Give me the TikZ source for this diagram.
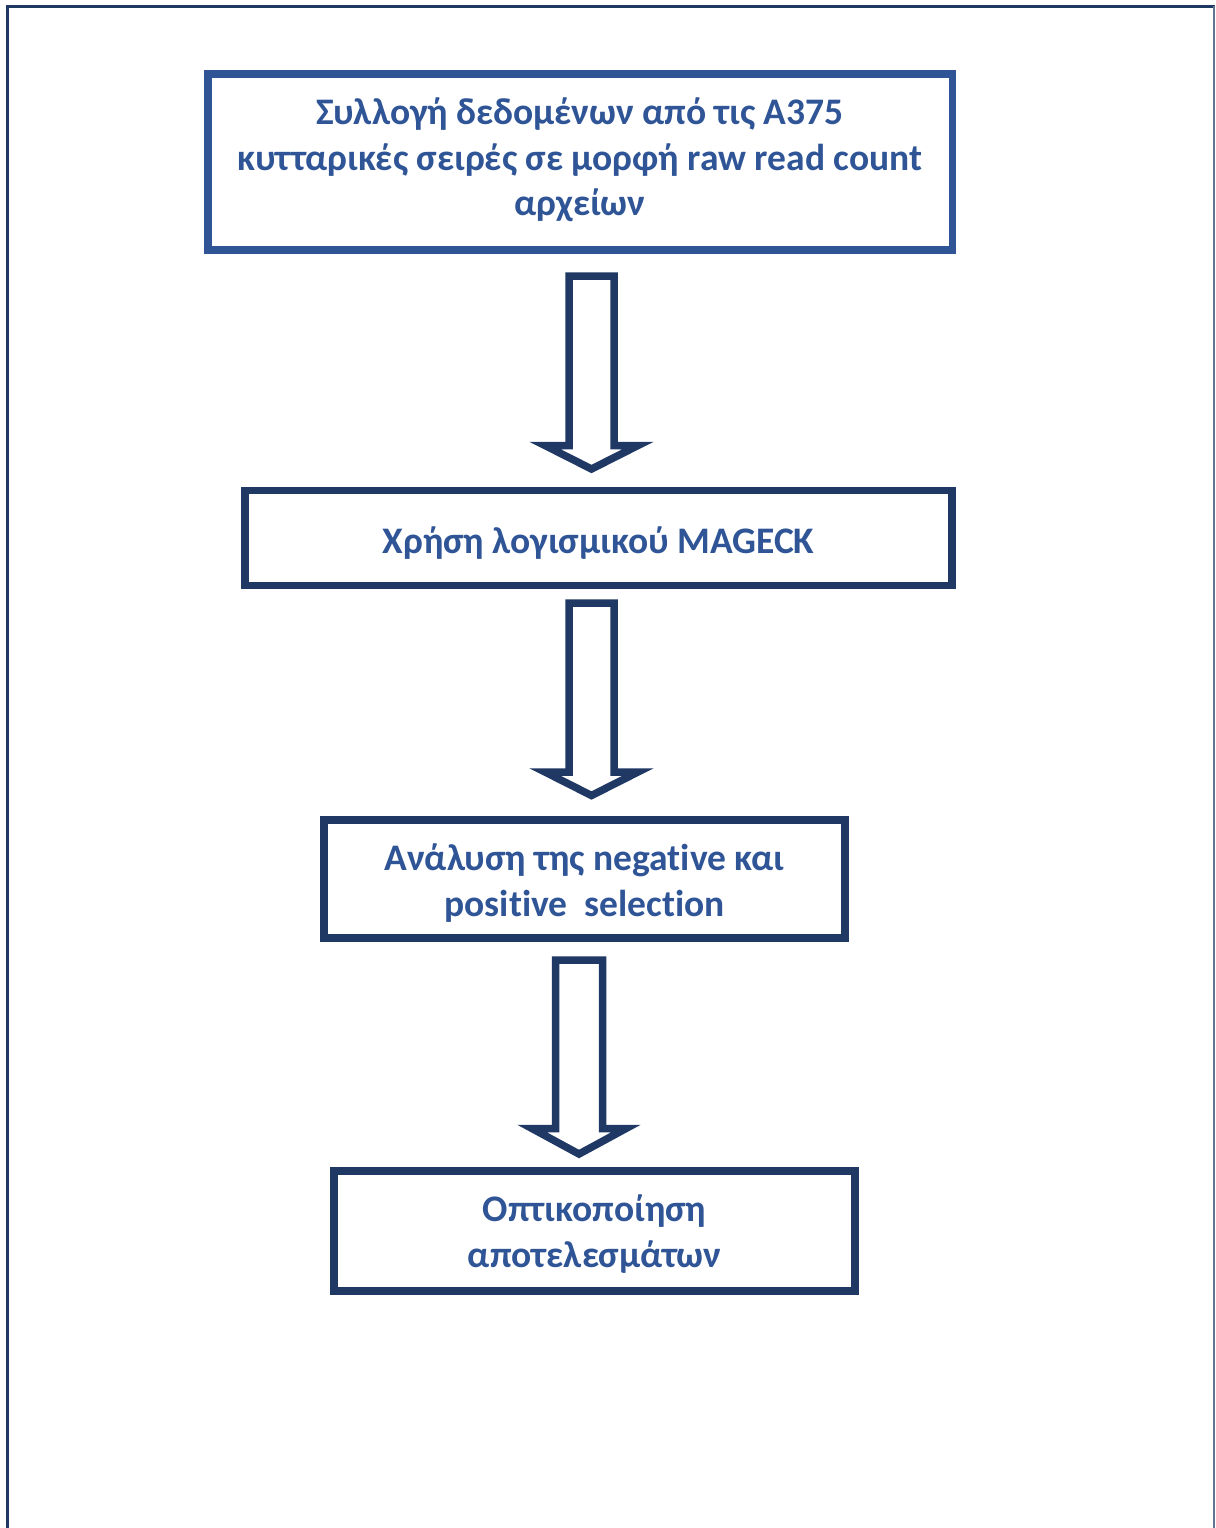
\documentclass[tikz,border=0pt]{standalone}
\usepackage{fontspec}
\setmainfont{Carlito}[Ligatures=NoCommon]
\usetikzlibrary{calc}
\definecolor{boxblue}{HTML}{2F5597}
\definecolor{navy}{HTML}{203864}
\definecolor{txtblue}{HTML}{2F5597}
\newcommand\dnarrow[6]{% cx, top, base, tip, shaft hw, head hw
  \draw[blockarrow] (#1-#5,#2) -- (#1+#5,#2) -- (#1+#5,#3) -- (#1+#6,#3) -- (#1,#4)
    -- (#1-#6,#3) -- (#1-#5,#3) -- cycle;}
\begin{document}
\begin{tikzpicture}[x=1pt,y=-1pt,
  stepbox/.style={draw=navy, line width=7.5pt, fill=white, rectangle, inner sep=0pt},
  steptext/.style={inner sep=0pt, align=center, text=txtblue,
    font=\fontsize{37.5}{45.5}\selectfont\bfseries},
  blockarrow/.style={draw=navy, line width=7.5pt, fill=white, line join=miter},
  frame/.style={draw=navy, line width=3pt}]
\useasboundingbox (0,0) rectangle (1215,1528);
% outer frame (open at bottom)
\draw[frame] (7.5,1528) -- (7.5,6.5) -- (1215,6.5);
\draw[draw=navy!70, line width=1.5pt] (1214,6.5) -- (1214,1528);
% boxes
\node[stepbox, draw=boxblue, minimum width=744.5pt, minimum height=176pt] (b1) at (580,162) {};
\node[stepbox, minimum width=707pt, minimum height=95pt] (b2) at (598.5,538) {};
\node[stepbox, minimum width=521pt, minimum height=118pt] (b3) at (584.5,879) {};
\node[stepbox, minimum width=521pt, minimum height=120pt] (b4) at (594.5,1231) {};
% texts
\node[steptext] (t1) at ($(b1.center)+(0,-2)$)
  {Συλλογή δεδομένων από τις A375\\κυτταρικές σειρές σε μορφή raw read count\\αρχείων};
\node[steptext] (t2) at ($(b2.center)+(0,5)$) {Χρήση λογισμικού MAGECK};
\node[steptext] (t3) at ($(b3.center)+(0,4)$) {Ανάλυση της negative και\\positive\ \ selection};
\node[steptext] (t4) at ($(b4.center)+(0,3)$) {Οπτικοποίηση\\αποτελεσμάτων};
% block arrows
\dnarrow{591.5}{276}{445.5}{469}{22.5}{46.5}
\dnarrow{591.5}{603}{772}{795.5}{22.5}{46.5}
\dnarrow{579}{960}{1128.5}{1154}{23.5}{47}
\end{tikzpicture}
\end{document}
